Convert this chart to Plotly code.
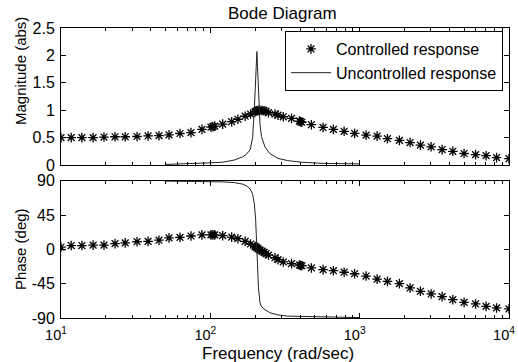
import plotly.graph_objects as go

# ---- data ----
freq_ctrl = [10, 11.7, 13.8, 16.4, 19.4, 23.0, 26.9, 32.3, 38.3, 45.3,
             52.9, 62.6, 74.2, 87.9, 101, 104, 107, 121, 139, 153,
             171, 186, 199, 202, 205, 209, 215, 222, 229, 236,
             245, 271, 284, 308, 350, 395, 402, 410, 475, 569,
             667, 787, 925, 1104, 1309, 1535, 1846, 2176, 2553, 3010,
             3566, 4206, 5003, 5975, 7026, 8260, 10000]
mag_ctrl = [0.50, 0.50, 0.50, 0.50, 0.51, 0.515, 0.515, 0.52, 0.53, 0.535,
            0.55, 0.575, 0.59, 0.65, 0.69, 0.70, 0.71, 0.745, 0.79, 0.835,
            0.89, 0.93, 0.97, 0.98, 0.99, 1.0, 1.0, 0.995, 0.99, 0.98,
            0.955, 0.93, 0.91, 0.88, 0.85, 0.80, 0.79, 0.78, 0.735, 0.685,
            0.65, 0.615, 0.576, 0.545, 0.527, 0.48, 0.45, 0.41, 0.362, 0.332,
            0.28, 0.25, 0.21, 0.19, 0.17, 0.135, 0.115]
phase_ctrl = [3, 5, 5, 5.5, 5.5, 7.5, 8.5, 10, 10.5, 12,
              15, 15.7, 17.5, 19, 19, 19, 19, 18, 16, 14,
              10.5, 7, 4, 3, 2, 0.5, -1, -2.5, -4, -5.5,
              -7.5, -11, -13.5, -16.5, -18.7, -20.5, -21, -21.5, -24.4, -26.6,
              -28, -30, -32, -35, -39, -42, -45, -50.6, -55, -58.5,
              -62, -66, -69.5, -71.6, -74.7, -76.8, -78]

freq_unc = [50, 70, 100, 120, 145, 165, 175, 185, 192, 197,
            201, 203, 205, 207, 210, 215, 220, 232, 250, 284,
            330, 410, 560, 1000]
mag_unc = [0.01, 0.02, 0.04, 0.05, 0.09, 0.15, 0.2, 0.28, 0.5, 1.0,
           1.6, 1.9, 2.07, 1.8, 1.3, 0.75, 0.52, 0.33, 0.21, 0.12,
           0.08, 0.05, 0.03, 0.02]
phase_unc = [89.5, 89.3, 89, 88.5, 87.5, 85.5, 83, 79, 72, 60,
             40, 25, 0, -20, -50, -70, -75, -79, -83, -86,
             -87.5, -88, -89, -89.5]

x_tickvals = [10, 100, 1000, 10000]
x_ticktext = ["10<sup>1</sup>", "10<sup>2</sup>", "10<sup>3</sup>", "10<sup>4</sup>"]
mag_tickvals = [0, 0.5, 1, 1.5, 2, 2.5]
mag_ticktext = ["0", "0.5", "1", "1.5", "2", "2.5"]
ph_tickvals = [-90, -45, 0, 45, 90]
ph_ticktext = ["-90", "-45", "0", "45", "90"]

FONT = "Liberation Sans, Arial, sans-serif"
MARKER = dict(symbol="asterisk-open", size=8, color="black",
              line=dict(color="black", width=1.3))
LINE = dict(color="#222222", width=1)

fig = go.Figure()
fig.add_trace(go.Scatter(x=freq_ctrl, y=mag_ctrl, mode="markers", name="Controlled response",
                         marker=MARKER, xaxis="x", yaxis="y"))
fig.add_trace(go.Scatter(x=freq_unc, y=mag_unc, mode="lines", name="Uncontrolled response",
                         line=LINE, xaxis="x", yaxis="y"))
fig.add_trace(go.Scatter(x=freq_ctrl, y=phase_ctrl, mode="markers", showlegend=False,
                         marker=MARKER, xaxis="x2", yaxis="y2"))
fig.add_trace(go.Scatter(x=freq_unc, y=phase_unc, mode="lines", showlegend=False,
                         line=LINE, xaxis="x2", yaxis="y2"))

axis_common = dict(showline=True, linecolor="black", linewidth=1, mirror="ticks",
                   ticks="inside", tickcolor="black", ticklen=5, showgrid=False,
                   zeroline=False, tickfont=dict(family=FONT, size=16, color="black"),
                   ticklabeloverflow="allow", automargin=False)

XRANGE = [0.9999, 4.0001]

fig.update_layout(
    width=518, height=362, autosize=False,
    margin=dict(l=61, r=9, t=28, b=44, autoexpand=False),
    paper_bgcolor="white", plot_bgcolor="white",
    font=dict(family=FONT, size=15, color="black"),
    xaxis=dict(type="log", range=XRANGE, domain=[0, 1], anchor="y",
               tickvals=x_tickvals, showticklabels=False,
               minor=dict(ticks="inside", ticklen=3, tickcolor="black", dtick="D1"),
               **axis_common),
    yaxis=dict(range=[0, 2.5], domain=[0.5276, 1], anchor="x",
               tickvals=mag_tickvals, ticktext=mag_ticktext, ticklabelstandoff=2,
               **axis_common),
    xaxis2=dict(type="log", range=XRANGE, domain=[0, 1], anchor="y2",
                tickvals=x_tickvals, ticktext=x_ticktext, ticklabelstandoff=4,
                ticklabelshift=-5,
                minor=dict(ticks="inside", ticklen=3, tickcolor="black", dtick="D1"),
                **{**axis_common, "tickfont": dict(family=FONT, size=14.5, color="black")}),
    yaxis2=dict(range=[-90, 90], domain=[0, 0.4734], anchor="x2",
                tickvals=ph_tickvals, ticktext=ph_ticktext, ticklabelstandoff=2,
                **axis_common),
    legend=dict(x=0.9866, y=0.9897, xanchor="right", yanchor="top",
                bordercolor="black", borderwidth=1, bgcolor="white",
                font=dict(family=FONT, size=16, color="black"),
                tracegroupgap=0, itemwidth=40),
    showlegend=True,
)

annotations = [
    dict(text="Bode Diagram", x=0.4955, y=1.0517, xref="paper", yref="paper",
         xanchor="center", yanchor="middle", showarrow=False,
         font=dict(family=FONT, size=17, color="black")),
    dict(text="Magnitude (abs)", x=-0.089, y=0.852, xref="paper", yref="paper",
         xanchor="center", yanchor="middle", showarrow=False, textangle=-90,
         font=dict(family=FONT, size=15, color="black")),
    dict(text="Phase (deg)", x=-0.089, y=0.238, xref="paper", yref="paper",
         xanchor="center", yanchor="middle", showarrow=False, textangle=-90,
         font=dict(family=FONT, size=15, color="black")),
    dict(text="Frequency (rad/sec)", x=0.484, y=-0.1207, xref="paper", yref="paper",
         xanchor="center", yanchor="middle", showarrow=False,
         font=dict(family=FONT, size=17, color="black")),
]
fig.update_layout(annotations=annotations)

fig.write_html("out.html")
